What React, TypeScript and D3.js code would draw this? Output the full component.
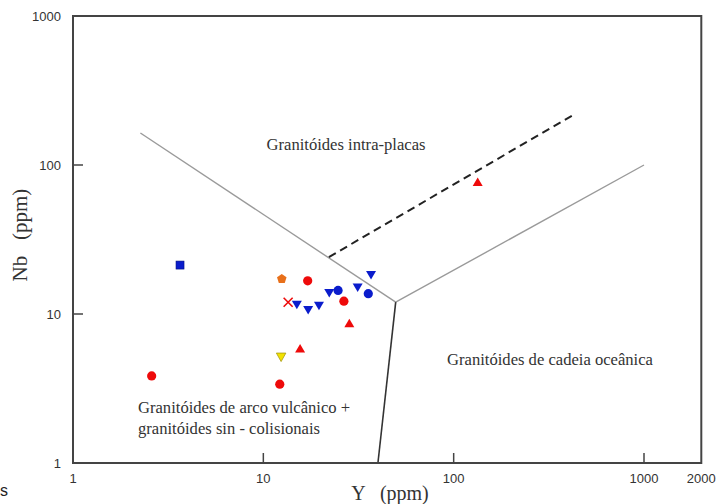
import React from "react";
import * as d3 from "d3";

// Pearce et al. (1984) Nb–Y discrimination diagram for granitoids
const W = 718;
const H = 504;

// Axis domains and tick labels
const xDomain = [1, 2000];
const yDomain = [1, 1000];
const xTickValues = [1, 10, 100, 1000, 2000];
const xTickLabels = ["1", "10", "100", "1000", "2000"];
const yTickValues = [1, 10, 100, 1000];
const yTickLabels = ["1", "10", "100", "1000"];
const xInnerTicks = [10, 100, 1000];
const yInnerTicks = [10, 100];

// Field boundaries (Y, Nb)
const wpgBoundary = [[2.26, 164], [49.6, 12]];
const orgBoundary = [[49.6, 12], [1000, 100]];
const vagBoundary = [[40, 1], [49.6, 12]];
const dashedBoundary = [[22.1, 24.1], [420, 215]];

// Samples (Y ppm, Nb ppm) by symbol
const redCircleY = [2.59, 12.2, 17.1, 26.5];
const redCircleNb = [3.84, 3.38, 16.7, 12.2];
const redTriangleY = [15.6, 28.3, 133.7];
const redTriangleNb = [5.9, 8.7, 77.3];
const blueCircleY = [24.7, 35.6];
const blueCircleNb = [14.4, 13.7];
const blueTriangleY = [15.0, 17.2, 19.6, 22.2, 31.3, 36.8];
const blueTriangleNb = [11.5, 10.6, 11.3, 13.8, 15.0, 18.2];
const blueSquareY = [3.65];
const blueSquareNb = [21.3];
const orangePentagonY = [12.5];
const orangePentagonNb = [17.2];
const yellowTriangleY = [12.4];
const yellowTriangleNb = [5.12];
const redCrossY = [13.5];
const redCrossNb = [12.0];

const RED = "#ee0a0a";
const BLUE = "#0a1ccc";

function triUp(w: number, h: number) {
  return `M0,${-h / 2}L${w / 2},${h / 2}L${-w / 2},${h / 2}Z`;
}
function triDown(w: number, h: number) {
  return `M0,${h / 2}L${w / 2},${-h / 2}L${-w / 2},${-h / 2}Z`;
}
function pentagon(r: number) {
  const pts = d3.range(5).map((i) => {
    const a = -Math.PI / 2 + (i * 2 * Math.PI) / 5;
    return [r * Math.cos(a), r * Math.sin(a)];
  });
  return "M" + pts.map((p) => p.join(",")).join("L") + "Z";
}

export default function App() {
  const x = d3.scaleLog().domain(xDomain).range([73, 701.3]);
  const y = d3.scaleLog().domain(yDomain).range([463, 16]);
  const line = d3
    .line<number[]>()
    .x((d) => x(d[0]))
    .y((d) => y(d[1]));

  const pairs = (xs: number[], ys: number[]) => xs.map((v, i) => [v, ys[i]]);

  const tickFont = "'Liberation Sans', Arial, sans-serif";
  const serif = "'Liberation Serif', 'Times New Roman', serif";

  return (
    <svg
      width={W}
      height={H}
      style={{ position: "absolute", left: 0, top: 0, background: "#fff" }}
    >
      {/* field boundaries */}
      <path d={line(wpgBoundary) || ""} stroke="#9a9a9a" strokeWidth={1.4} fill="none" />
      <path d={line(orgBoundary) || ""} stroke="#9a9a9a" strokeWidth={1.4} fill="none" />
      <path d={line(vagBoundary) || ""} stroke="#333" strokeWidth={1.6} fill="none" />
      <path
        d={line(dashedBoundary) || ""}
        stroke="#222"
        strokeWidth={2}
        strokeDasharray="8,5"
        fill="none"
      />

      {/* frame */}
      <rect
        x={73}
        y={16}
        width={701.3 - 73}
        height={463 - 16}
        fill="none"
        stroke="#444"
        strokeWidth={2}
      />
      {xInnerTicks.map((t) => (
        <line key={"xt" + t} x1={x(t)} x2={x(t)} y1={463} y2={453} stroke="#444" strokeWidth={1.5} />
      ))}
      {yInnerTicks.map((t) => (
        <line key={"yt" + t} x1={73} x2={83} y1={y(t)} y2={y(t)} stroke="#444" strokeWidth={1.5} />
      ))}

      {/* tick labels */}
      {xTickValues.map((t, i) => (
        <text
          key={"xl" + t}
          x={x(t)}
          y={483}
          textAnchor="middle"
          fontFamily={tickFont}
          fontSize={13}
          fill="#333"
        >
          {xTickLabels[i]}
        </text>
      ))}
      {yTickValues.map((t, i) => (
        <text
          key={"yl" + t}
          x={61}
          y={y(t) + 5}
          textAnchor="end"
          fontFamily={tickFont}
          fontSize={13}
          fill="#333"
        >
          {yTickLabels[i]}
        </text>
      ))}

      {/* axis titles */}
      <text
        x={390}
        y={500}
        textAnchor="middle"
        fontFamily={serif}
        fontSize={20}
        fill="#333"
        style={{ whiteSpace: "pre" }}
      >
        {"Y   (ppm)"}
      </text>
      <text
        transform="translate(27,235) rotate(-90)"
        textAnchor="middle"
        fontFamily={serif}
        fontSize={21}
        fill="#333"
        style={{ whiteSpace: "pre" }}
      >
        {"Nb   (ppm)"}
      </text>

      {/* field labels */}
      <g fontFamily={serif} fontSize={16.6} fill="#333">
        <text x={346} y={150} textAnchor="middle">Granitóides intra-placas</text>
        <text x={550} y={365} textAnchor="middle">Granitóides de cadeia oceânica</text>
        <text x={138} y={413}>Granitóides de arco vulcânico +</text>
        <text x={138} y={434}>granitóides sin - colisionais</text>
      </g>

      {/* samples */}
      {pairs(redCircleY, redCircleNb).map((d, i) => (
        <circle key={"rc" + i} cx={x(d[0])} cy={y(d[1])} r={4.6} fill={RED} />
      ))}
      {pairs(blueCircleY, blueCircleNb).map((d, i) => (
        <circle key={"bc" + i} cx={x(d[0])} cy={y(d[1])} r={4.6} fill={BLUE} />
      ))}
      {pairs(redTriangleY, redTriangleNb).map((d, i) => (
        <path
          key={"rt" + i}
          transform={`translate(${x(d[0])},${y(d[1])})`}
          d={triUp(10, 8.5)}
          fill={RED}
        />
      ))}
      {pairs(blueTriangleY, blueTriangleNb).map((d, i) => (
        <path
          key={"bt" + i}
          transform={`translate(${x(d[0])},${y(d[1])})`}
          d={triDown(10, 8.5)}
          fill={BLUE}
        />
      ))}
      {pairs(yellowTriangleY, yellowTriangleNb).map((d, i) => (
        <path
          key={"yt" + i}
          transform={`translate(${x(d[0])},${y(d[1])})`}
          d={triDown(9.5, 8.5)}
          fill="#f2e200"
          stroke="#a89a10"
          strokeWidth={0.8}
        />
      ))}
      {pairs(blueSquareY, blueSquareNb).map((d, i) => (
        <rect
          key={"bs" + i}
          x={x(d[0]) - 4}
          y={y(d[1]) - 4}
          width={8}
          height={8}
          fill={BLUE}
          stroke="#001080"
          strokeWidth={0.6}
        />
      ))}
      {pairs(orangePentagonY, orangePentagonNb).map((d, i) => (
        <path
          key={"op" + i}
          transform={`translate(${x(d[0])},${y(d[1])})`}
          d={pentagon(5)}
          fill="#e8701a"
        />
      ))}
      {pairs(redCrossY, redCrossNb).map((d, i) => (
        <g key={"rx" + i} transform={`translate(${x(d[0])},${y(d[1])})`} stroke={RED} strokeWidth={1.6}>
          <line x1={-4.5} y1={-4.5} x2={4.5} y2={4.5} />
          <line x1={-4.5} y1={4.5} x2={4.5} y2={-4.5} />
        </g>
      ))}

      <text x={0} y={496} fontFamily={tickFont} fontSize={16} fill="#222">
        s
      </text>
    </svg>
  );
}
